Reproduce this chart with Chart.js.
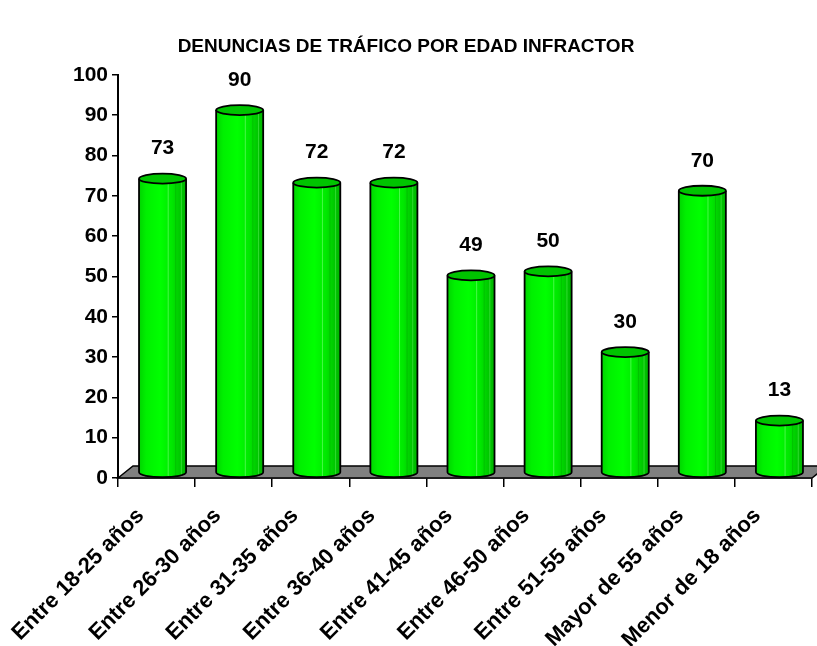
<!DOCTYPE html>
<html>
<head>
<meta charset="utf-8">
<title>Denuncias de tráfico</title>
<script src="https://cdn.jsdelivr.net/npm/chart.js@4.4.1/dist/chart.umd.min.js"></script>
<style>
  html, body { margin: 0; padding: 0; background: #fff; }
  #wrap { width: 817px; height: 646px; }
</style>
</head>
<body>
<div id="wrap"><canvas id="denunciasChart" width="817" height="646"></canvas></div>
<script>
// Datos del gráfico
const edades = ['Entre 18-25 años', 'Entre 26-30 años', 'Entre 31-35 años', 'Entre 36-40 años',
  'Entre 41-45 años', 'Entre 46-50 años', 'Entre 51-55 años', 'Mayor de 55 años', 'Menor de 18 años'];
const denuncias = [73, 90, 72, 72, 49, 50, 30, 70, 13];
const tituloGrafico = 'DENUNCIAS DE TRÁFICO POR EDAD INFRACTOR';

const fuente = "'Liberation Sans', Arial, sans-serif";
const ctx = document.getElementById('denunciasChart').getContext('2d');

// desplazamiento 3D (mitad de la profundidad del suelo)
const dx3d = 6, dy3d = 5;

// Suelo gris en perspectiva
const sueloPlugin = {
  id: 'suelo',
  beforeDatasetsDraw(chart) {
    const a = chart.chartArea;
    const c = chart.ctx;
    c.save();
    c.beginPath();
    c.moveTo(a.left, a.bottom);
    c.lineTo(a.left + 15, a.bottom - 12);
    c.lineTo(a.right + 15, a.bottom - 12);
    c.lineTo(a.right, a.bottom);
    c.closePath();
    c.fillStyle = '#808080';
    c.fill();
    c.lineWidth = 1.5;
    c.strokeStyle = '#000';
    c.stroke();
    c.restore();
  }
};

// Cilindros y etiquetas de valor
const cilindrosPlugin = {
  id: 'cilindros',
  afterDatasetsDraw(chart) {
    const c = chart.ctx;
    const meta = chart.getDatasetMeta(0);
    c.save();
    meta.data.forEach((el, i) => {
      const cx = el.x + dx3d;
      const rx = el.width / 2;
      const l = cx - rx, r = cx + rx;
      const top = el.y - dy3d, bot = el.base - dy3d, ry = 5;

      const grad = c.createLinearGradient(l, 0, r, 0);
      grad.addColorStop(0, '#00d400');
      grad.addColorStop(0.15, '#00f000');
      grad.addColorStop(0.45, '#00ff00');
      grad.addColorStop(0.7, '#00e800');
      grad.addColorStop(0.85, '#00cc00');
      grad.addColorStop(1, '#00b400');

      // cuerpo
      c.beginPath();
      c.moveTo(l, top);
      c.lineTo(l, bot);
      c.ellipse(cx, bot, rx, ry, 0, Math.PI, 0, true);
      c.lineTo(r, top);
      c.ellipse(cx, top, rx, ry, 0, 0, Math.PI, false);
      c.closePath();
      c.fillStyle = grad;
      c.fill();

      // reflejos verticales
      c.lineWidth = 1;
      [[0.62, 'rgba(120,255,120,0.6)'], [0.78, 'rgba(0,150,0,0.35)'], [0.9, 'rgba(120,255,120,0.4)']].forEach(s => {
        const xs = l + s[0] * el.width;
        c.beginPath();
        c.moveTo(xs, top);
        c.lineTo(xs, bot + ry * 0.8);
        c.strokeStyle = s[1];
        c.stroke();
      });

      c.beginPath();
      c.moveTo(l, top);
      c.lineTo(l, bot);
      c.ellipse(cx, bot, rx, ry, 0, Math.PI, 0, true);
      c.lineTo(r, top);
      c.lineWidth = 1.8;
      c.strokeStyle = '#000';
      c.stroke();

      // tapa
      c.beginPath();
      c.ellipse(cx, top, rx, ry, 0, 0, Math.PI * 2);
      c.fillStyle = '#00c400';
      c.fill();
      c.stroke();

      // valor
      c.fillStyle = '#000';
      c.font = 'bold 21px ' + fuente;
      c.textAlign = 'center';
      c.textBaseline = 'middle';
      c.fillText(String(denuncias[i]), cx, el.y - 35);
    });
    c.restore();
  }
};

const denunciasChart = new Chart(ctx, {
  type: 'bar',
  data: {
    labels: edades,
    datasets: [{
      label: 'Denuncias',
      data: denuncias,
      backgroundColor: 'rgba(0,0,0,0)',
      borderWidth: 0,
      barPercentage: 0.61,
      categoryPercentage: 1
    }]
  },
  options: {
    responsive: false,
    animation: false,
    layout: { padding: { left: 0, right: 5, top: 0, bottom: 0 } },
    plugins: {
      legend: { display: false },
      tooltip: { enabled: false },
      title: {
        display: true,
        text: tituloGrafico,
        color: '#000',
        font: { family: fuente, size: 19, weight: 'bold', lineHeight: 1.2 },
        padding: { top: 35, bottom: 17 }
      }
    },
    scales: {
      x: {
        offset: true,
        grid: { offset: true, drawOnChartArea: false, color: '#000', lineWidth: 1.5, tickLength: 9 },
        border: { display: true, color: '#000', width: 1.5 },
        ticks: {
          color: '#000',
          autoSkip: false,
          maxRotation: 45,
          minRotation: 45,
          padding: 16,
          labelOffset: -16,
          font: { family: fuente, size: 22, weight: 'bold' }
        },
        afterFit(scale) { scale.height = 168; }
      },
      y: {
        min: 0,
        max: 100,
        ticks: {
          stepSize: 10,
          color: '#000',
          padding: 4,
          font: { family: fuente, size: 21, weight: 'bold' }
        },
        grid: { drawOnChartArea: false, color: '#000', lineWidth: 1.5, tickLength: 6 },
        border: { display: true, color: '#000', width: 2 },
        afterFit(scale) { scale.width = 118; }
      }
    }
  },
  plugins: [sueloPlugin, cilindrosPlugin]
});
</script>
</body>
</html>
